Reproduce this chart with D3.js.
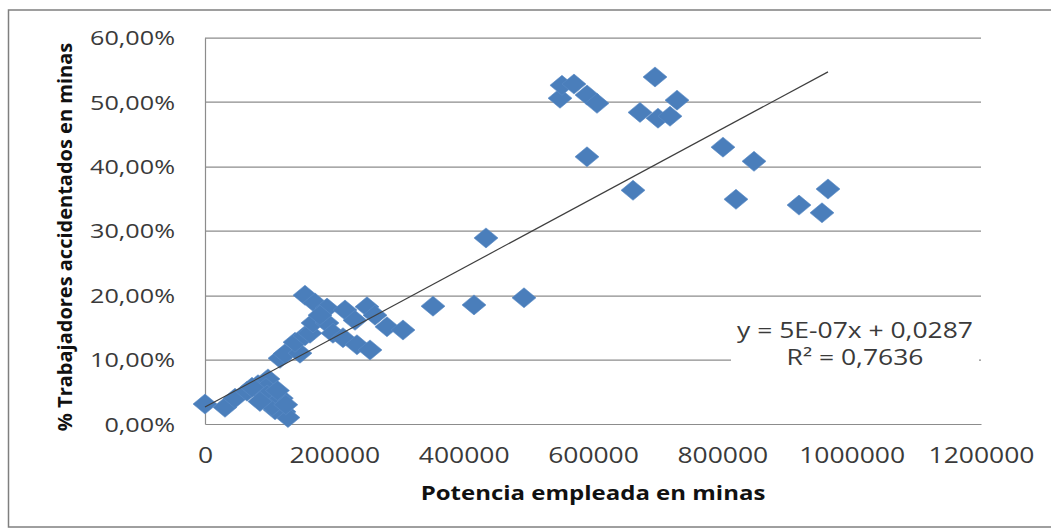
<!DOCTYPE html>
<html>
<head>
<meta charset="utf-8">
<script src="https://cdn.jsdelivr.net/npm/d3@7"></script>
<style>
  body { margin: 0; background: #fff; }
  text { font-family: "Open Sans", sans-serif; }
</style>
</head>
<body>
<div id="grafico"></div>
<script>
// potencia empleada (x) y % trabajadores accidentados (y)
var potencia = [0, 30900, 46400, 65000, 82000, 97400, 88100, 100500, 109800, 114400,
    122200, 128300, 108300, 94300, 72700, 116000, 123700, 146900, 139200, 154600,
    162400, 167000, 188700, 197900, 154600, 170100, 188700, 216500, 250500, 262900,
    213400, 235000, 255200, 281400, 306200, 352600, 416000, 493300, 434500, 177800,
    232000, 549000, 552000, 570600, 590700, 606200, 590700, 661900, 672700, 695900,
    700500, 719100, 729900, 801000, 849000, 821100, 918600, 954100, 963400,
    96000, 104000, 118000, 112000, 85000, 125000];
var accidentados = [0.031, 0.026, 0.040, 0.051, 0.061, 0.070, 0.048, 0.034, 0.043, 0.026,
    0.019, 0.010, 0.022, 0.056, 0.057, 0.102, 0.109, 0.110, 0.127, 0.137,
    0.141, 0.157, 0.157, 0.141, 0.200, 0.188, 0.180, 0.177, 0.182, 0.169,
    0.134, 0.123, 0.115, 0.151, 0.146, 0.183, 0.185, 0.196, 0.289, 0.169,
    0.161, 0.506, 0.526, 0.528, 0.511, 0.498, 0.415, 0.363, 0.484, 0.539,
    0.475, 0.478, 0.503, 0.430, 0.408, 0.349, 0.340, 0.328, 0.365,
    0.045, 0.028, 0.040, 0.052, 0.035, 0.030];
var xTicks = [0, 200000, 400000, 600000, 800000, 1000000, 1200000];
var yTicks = [0, 0.1, 0.2, 0.3, 0.4, 0.5, 0.6];
var ecuacion = ["y = 5E-07x + 0,0287", "R\u00b2 = 0,7636"];

var width = 1051,
    height = 530;
var margin = { top: 37.7, right: 70, bottom: 106, left: 205 };
var plotW = 981 - margin.left,
    plotH = 424 - margin.top;
var estira = 1.26; // el texto del original sale mas ancho

var svg = d3.select("#grafico").append("svg")
    .attr("width", width)
    .attr("height", height)
    .style("display", "block");

// marco del grafico
svg.append("rect")
    .attr("x", 8.5)
    .attr("y", 10)
    .attr("width", 1060)
    .attr("height", 517)
    .attr("fill", "white")
    .attr("stroke", "#7f7f7f")
    .attr("stroke-width", 1.5);

var g = svg.append("g")
    .attr("transform", "translate(" + margin.left + "," + margin.top + ")");

var x = d3.scaleLinear().domain([0, 1200000]).range([0, plotW]);
var y = d3.scaleLinear().domain([0, 0.6]).range([plotH, 0]);

// lineas de division
g.selectAll(".grid")
    .data(yTicks.slice(1))
    .enter()
    .append("line")
    .attr("class", "grid")
    .attr("x1", 0)
    .attr("x2", plotW)
    .attr("y1", function(d) { return Math.round(y(d)) + 0.5 })
    .attr("y2", function(d) { return Math.round(y(d)) + 0.5 })
    .attr("stroke", "#8c8c8c")
    .attr("stroke-width", 1.2);

var yAxis = g.append("g")
    .call(d3.axisLeft(y).tickValues(yTicks).tickSize(0).tickPadding(30 / estira)
        .tickFormat(function(d) { return (d * 100).toFixed(2).replace(".", ",") + "%" }));
yAxis.select(".domain").attr("stroke", "#8c8c8c").attr("stroke-width", 1.2);
yAxis.selectAll("text")
    .style("font-size", "20px")
    .attr("fill", "#3a3a3a")
    .attr("dy", "0.35em")
    .attr("transform", "scale(" + estira + ",1)");

var xAxis = g.append("g")
    .attr("transform", "translate(0," + plotH + ")")
    .call(d3.axisBottom(x).tickValues(xTicks).tickSize(0).tickPadding(24)
        .tickFormat(function(d) { return d }));
xAxis.select(".domain").attr("stroke", "#8c8c8c").attr("stroke-width", 1.2);
xAxis.selectAll("text")
    .style("font-size", "21px")
    .attr("fill", "#3a3a3a")
    .attr("transform", "scale(" + estira + ",1)");

// titulos
svg.append("text")
    .attr("transform", "translate(593,500) scale(1.2,1)")
    .attr("text-anchor", "middle")
    .style("font-size", "20px")
    .attr("font-weight", "bold")
    .attr("fill", "#111")
    .text("Potencia empleada en minas");

svg.append("text")
    .attr("transform", "translate(72,237) rotate(-90)")
    .attr("text-anchor", "middle")
    .style("font-size", "20px")
    .attr("font-weight", "bold")
    .attr("fill", "#111")
    .text("% Trabajadores accidentados en minas");

// puntos
var datos = potencia.map(function(p, i) { return { x: p, y: accidentados[i] } });

var diamante = "M0,-10L12,0L0,10L-12,0Z";
g.selectAll(".punto")
    .data(datos)
    .enter()
    .append("path")
    .attr("class", "punto")
    .attr("d", diamante)
    .attr("transform", function(d) { return "translate(" + x(d.x) + "," + y(d.y) + ")" })
    .attr("fill", "#4a7ebb")
    .attr("stroke", "#5b8cc6")
    .attr("stroke-width", 0.6);

// linea de tendencia (minimos cuadrados)
var mx = d3.mean(datos, function(d) { return d.x }),
    my = d3.mean(datos, function(d) { return d.y });
var sxy = d3.sum(datos, function(d) { return (d.x - mx) * (d.y - my) }),
    sxx = d3.sum(datos, function(d) { return (d.x - mx) * (d.x - mx) });
var pendiente = sxy / sxx,
    intercepto = my - pendiente * mx;
var ext = d3.extent(datos, function(d) { return d.x });

g.append("line")
    .attr("x1", x(ext[0]))
    .attr("y1", y(intercepto + pendiente * ext[0]))
    .attr("x2", x(ext[1]))
    .attr("y2", y(intercepto + pendiente * ext[1]))
    .attr("stroke", "#3f3f3f")
    .attr("stroke-width", 1.2);

// etiqueta de la tendencia
svg.append("rect")
    .attr("x", 731)
    .attr("y", 312)
    .attr("width", 248)
    .attr("height", 62)
    .attr("fill", "white");

svg.selectAll(".eq")
    .data(ecuacion)
    .enter()
    .append("text")
    .attr("class", "eq")
    .attr("transform", function(d, i) { return "translate(855," + (338 + i * 27) + ") scale(" + estira + ",1)" })
    .attr("text-anchor", "middle")
    .style("font-size", "21px")
    .attr("fill", "#3a3a3a")
    .text(function(d) { return d });
</script>
</body>
</html>
